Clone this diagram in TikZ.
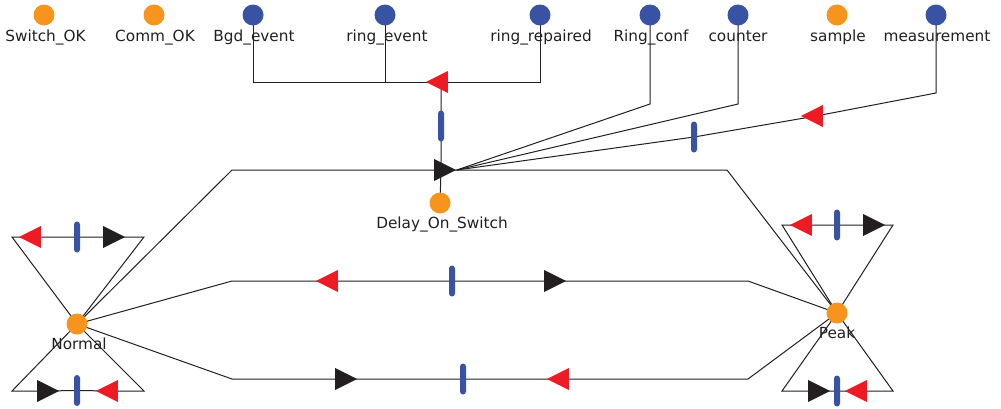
\documentclass[tikz,border=0pt]{standalone}
\usepackage{fontspec}
\setmainfont{DejaVu Sans}
\usetikzlibrary{shapes.geometric,backgrounds}
\definecolor{pOrange}{HTML}{F7941D}
\definecolor{pBlue}{HTML}{3953A4}
\definecolor{pRed}{HTML}{ED1C24}
\definecolor{pBlack}{HTML}{231F20}
\begin{document}
\begin{tikzpicture}[x=1pt,y=-1pt,
  place/.style={circle,fill=#1,minimum size=21pt,inner sep=0pt,draw=none},
  tri/.style={isosceles triangle,isosceles triangle stretches,minimum width=22pt,minimum height=22pt,inner sep=0pt,fill=#1,draw=none},
  rtri/.style={tri=pRed,shape border rotate=180},
  btri/.style={tri=pBlack},
  bar/.style={rectangle,fill=pBlue,minimum width=6pt,minimum height=31pt,inner sep=0pt,rounded corners=3pt,draw=none},
  lbl/.style={font=\fontsize{15.3}{18}\selectfont,text=pBlack,anchor=base,inner sep=0pt},
  wire/.style={draw=pBlack,line width=1pt,line join=miter}]
\useasboundingbox (0,0) rectangle (1001,408);
% places
\node[place=pOrange] (sok) at (44,15) {};
\node[place=pOrange] (cok) at (154,15) {};
\node[place=pBlue] (bgd) at (253,15) {};
\node[place=pBlue] (re) at (385,15) {};
\node[place=pBlue] (rr) at (540,15) {};
\node[place=pBlue] (rc) at (650,15) {};
\node[place=pBlue] (ct) at (738,15) {};
\node[place=pOrange] (smp) at (837,15) {};
\node[place=pBlue] (ms) at (936,15) {};
\node[place=pOrange] (dos) at (440,203) {};
\node[place=pOrange] (nor) at (77,324) {};
\node[place=pOrange] (pk) at (837,313) {};
% labels
\node[lbl] (sokl) at (45.5,41) {Switch\_OK};
\node[lbl] (cokl) at (155,41) {Comm\_OK};
\node[lbl] (bgdl) at (254,41) {Bgd\_event};
\node[lbl] (rel) at (387,41) {ring\_event};
\node[lbl] (rrl) at (541,41) {ring\_repaired};
\node[lbl] (rcl) at (651,41) {Ring\_conf};
\node[lbl] (ctl) at (738,41) {counter};
\node[lbl] (smpl) at (838,41) {sample};
\node[lbl] (msl) at (937,41) {measurement};
\node[lbl] (dosl) at (442,228) {Delay\_On\_Switch};
\node[lbl] (norl) at (79,349) {Normal};
\node[lbl] (pkl) at (837,338) {Peak};
% transitions
\node[rtri] (t1) at (441,82) {};
\node[bar] (b1) at (441,126) {};
\node[btri] (t2) at (441,170) {};
\node[rtri] (mr) at (816,116) {};
\node[bar] (mb) at (694,137) {};
\node[rtri] (m1) at (331,281) {};
\node[bar] (m2) at (452,281) {};
\node[btri] (m3) at (551,281) {};
\node[btri] (d1) at (342,379) {};
\node[bar] (d2) at (463,379) {};
\node[rtri] (d3) at (562,379) {};
\node[rtri] (nt1) at (34,237) {};
\node[bar] (nt2) at (77,237) {};
\node[btri] (nt3) at (110,237) {};
\node[btri] (nb1) at (44,391) {};
\node[bar] (nb2) at (77,390.5) {};
\node[rtri] (nb3) at (111,391) {};
\node[rtri] (pt1) at (805,225) {};
\node[bar] (pt2) at (837,225) {};
\node[btri] (pt3) at (870,225) {};
\node[btri] (pb1) at (815,391) {};
\node[bar] (pb2) at (837,391) {};
\node[rtri] (pb3) at (860,391) {};
% bends
\coordinate (bgdE) at (253,82);
\coordinate (reE) at (385,82);
\coordinate (rrE) at (540,82);
\coordinate (rcE) at (650,104);
\coordinate (ctE) at (738,104);
\coordinate (msE) at (936,93);
\coordinate (tL) at (232,170);
\coordinate (tR) at (727,170);
\coordinate (mL) at (232,281);
\coordinate (mR) at (748,281);
\coordinate (dL) at (232,379);
\coordinate (dR) at (748,379);
\coordinate (ntL) at (12,237);
\coordinate (ntR) at (144,237);
\coordinate (nbL) at (12,391);
\coordinate (nbR) at (144,391);
\coordinate (ptL) at (782,225);
\coordinate (ptR) at (893,225);
\coordinate (pbL) at (782,391);
\coordinate (pbR) at (893,391);
\begin{scope}[on background layer]
\draw[wire] (bgd.center) -- (bgdE) -- (rrE) -- (rr.center);
\draw[wire] (re.center) -- (reE);
\draw[wire] (t1.center) -- (b1.center) -- (t2.center) -- (dos.center);
\draw[wire] (rc.center) -- (rcE) -- (t2.apex);
\draw[wire] (ct.center) -- (ctE) -- (t2.apex);
\draw[wire] (ms.center) -- (msE) -- (mr.center) -- (mb.center) -- (t2.apex);
\draw[wire] (nor.center) -- (tL) -- (tR) -- (pk.center);
\draw[wire] (nor.center) -- (mL) -- (m1.center) -- (m2.center) -- (m3.center) -- (mR) -- (pk.center);
\draw[wire] (nor.center) -- (dL) -- (d1.center) -- (d2.center) -- (d3.center) -- (dR) -- (pk.center);
\draw[wire] (nor.center) -- (ntL) -- (nt1.center) -- (nt2.center) -- (nt3.center) -- (ntR) -- (nor.center);
\draw[wire] (nor.center) -- (nbL) -- (nb1.center) -- (nb2.center) -- (nb3.center) -- (nbR) -- (nor.center);
\draw[wire] (pk.center) -- (ptL) -- (pt1.center) -- (pt2.center) -- (pt3.center) -- (ptR) -- (pk.center);
\draw[wire] (pk.center) -- (pbL) -- (pb1.center) -- (pb2.center) -- (pb3.center) -- (pbR) -- (pk.center);
\end{scope}
\end{tikzpicture}
\end{document}
